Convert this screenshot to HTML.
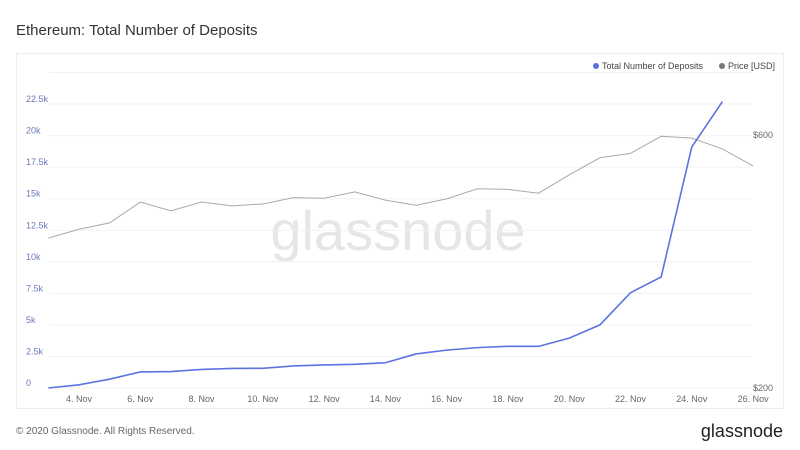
<!DOCTYPE html>
<html><head><meta charset="utf-8"><style>
body{margin:0;width:800px;height:450px;background:#fff;font-family:"Liberation Sans",sans-serif;overflow:hidden}
svg{position:absolute;left:0;top:0}
</style></head><body>
<svg width="800" height="450">
<text x="16" y="35" font-size="15" fill="#333">Ethereum: Total Number of Deposits</text>
<rect x="16.5" y="53.5" width="767" height="355" fill="none" stroke="#eee"/>
<text x="398" y="250" font-size="56" fill="#e6e6e6" text-anchor="middle">glassnode</text>
<g id="grid"></g><g id="axes"></g><g id="series"></g>
<g>
<circle cx="596" cy="66" r="3" fill="#5b73e0"/>
<text x="602" y="69" font-size="9" fill="#444">Total Number of Deposits</text>
<circle cx="722" cy="66" r="3" fill="#777"/>
<text x="728" y="69" font-size="9" fill="#444">Price [USD]</text>
</g>
<text x="16" y="434" font-size="10" fill="#666">© 2020 Glassnode. All Rights Reserved.</text>
<text x="783" y="437" font-size="18" fill="#222" text-anchor="end">glassnode</text>
</svg>
<script>
const days=[3,4,5,6,7,8,9,10,11,12,13,14,15,16,17,18,19,20,21,22,23,24,25,26];
const deposits=[0,250,700,1270,1300,1470,1550,1560,1750,1830,1880,2000,2700,3000,3200,3300,3300,3950,5000,7550,8800,19100,22700];
const price=[437,451,461,494,480,494,488,491,501,500,510,497,489,499,515,514,508,537,564,571,598,595,578,551];
const leftTicks=[0,2500,5000,7500,10000,12500,15000,17500,20000,22500];
const leftLabels=["0","2.5k","5k","7.5k","10k","12.5k","15k","17.5k","20k","22.5k"];
const rightTicks=[200,600];
const xTickDays=[4,6,8,10,12,14,16,18,20,22,24,26];
const NS="http://www.w3.org/2000/svg";
const x=d=>79+(d-4)*30.64;
const yL=v=>388-v/2500*31.55;
const yR=p=>388-(p-200)/400*253;
function mk(t,a,parent){const e=document.createElementNS(NS,t);for(const k in a)e.setAttribute(k,a[k]);document.getElementById(parent).appendChild(e);return e;}
[...leftTicks,25000].forEach(v=>{const g=mk('line',{x1:49,x2:752,y1:yL(v),y2:yL(v),stroke:'#f2f2f2'},'grid');

});
leftTicks.forEach((v,i)=>{const t=mk('text',{x:26,y:yL(v)-2,'font-size':9,fill:'#6c7bb8'},'axes');t.textContent=leftLabels[i];

});
rightTicks.forEach(p=>{const t=mk('text',{x:753,y:yR(p)+3,'font-size':9,fill:'#666'},'axes');t.textContent='$'+p;

});
xTickDays.forEach(d=>{const t=mk('text',{x:x(d),y:402,'font-size':9,fill:'#666','text-anchor':'middle'},'axes');t.textContent=d+'. Nov';

});
const pp=mk('polyline',{points:price.map((p,i)=>x(days[i])+','+yR(p)).join(' '),fill:'none',stroke:'#aaa','stroke-width':1},'series');


const dp=mk('polyline',{points:deposits.map((v,i)=>x(days[i])+','+yL(v)).join(' '),fill:'none',stroke:'#5b73e0','stroke-width':1.6},'series');


</script>
</body></html>
